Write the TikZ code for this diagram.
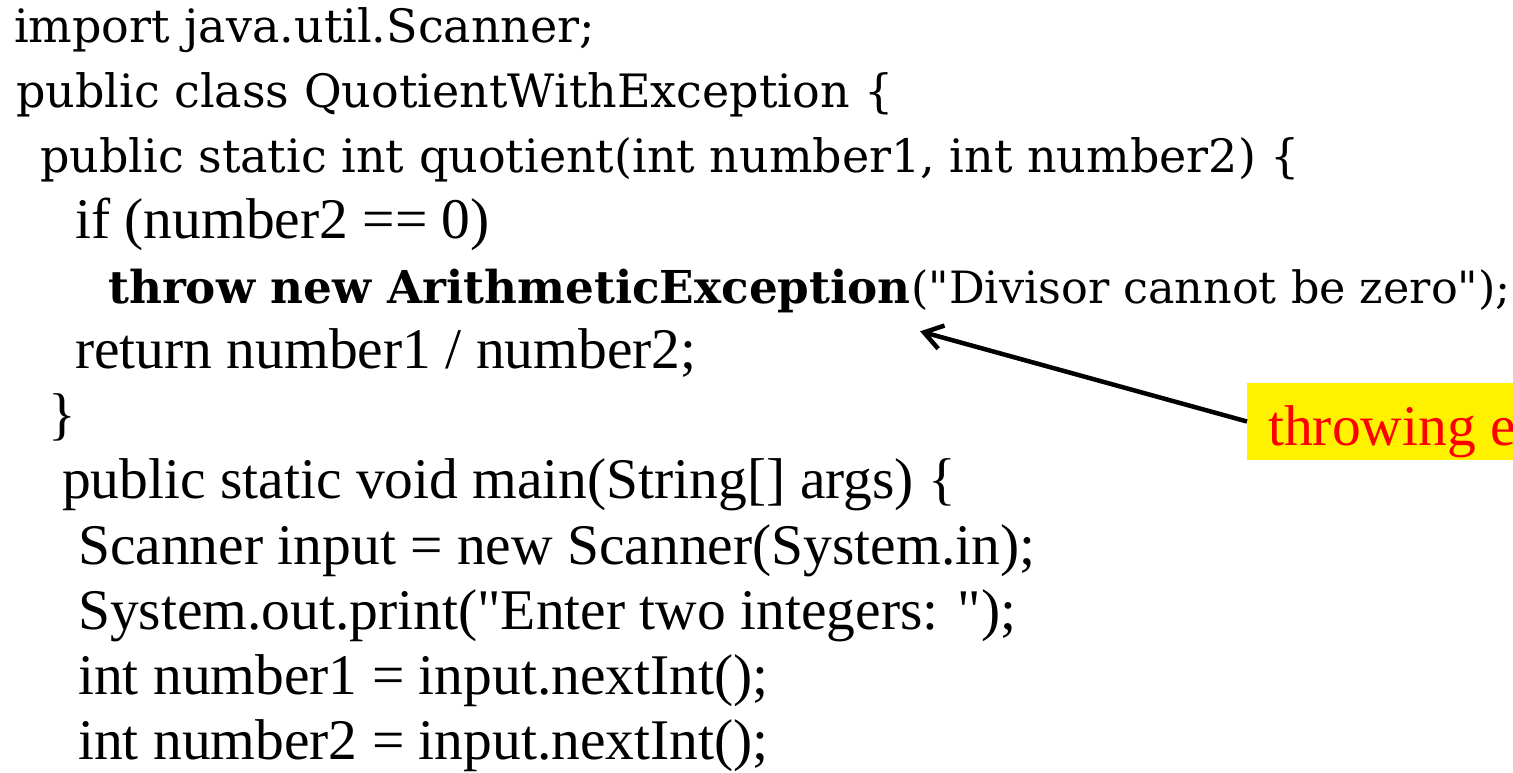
\documentclass[tikz,border=0pt]{standalone}
\usepackage{fontspec}
\newfontfamily\codefont{Liberation Serif}
\newfontfamily\slabfont{DejaVu Serif}
\usetikzlibrary{arrows.meta,calc}

\begin{document}
\begin{tikzpicture}[x=1pt,y=1pt,
  code/.style={anchor=base west, inner sep=0pt, font=\codefont\fontsize{57.5}{66}\selectfont},
  slab/.style={anchor=base west, inner sep=0pt, font=\slabfont\fontsize{46}{66}\selectfont},
  slabbold/.style={anchor=base west, inner sep=0pt, font=\slabfont\bfseries\fontsize{45.3}{66}\selectfont},
  slabreg/.style={anchor=base west, inner sep=0pt, font=\slabfont\fontsize{44.5}{66}\selectfont},
  callout/.style={anchor=base west, fill=yellow, text=red, inner xsep=21pt, inner ysep=0pt,
    text height=62pt, text depth=15pt, font=\codefont\fontsize{57.5}{66}\selectfont},
  pointer/.style={draw=black, line width=4.5pt, -{Straight Barb[length=18pt,width=24pt,line width=4.5pt]}}]
\useasboundingbox (0,0) rectangle (1513,-773);
\clip (0,0) rectangle (1513,-773);
\fill[white] (0,0) rectangle (1513,-773);

% source listing, one node per line
\node[slab] (l1)  at (14,-42.5)  {import java.util.Scanner;};
\node[slab] (l2)  at (16,-107.7) {public class QuotientWithException \{};
\node[slab] (l3)  at (40,-172.9) {public static int quotient(int number1, int number2) \{};
\node[code] (l4)  at (75,-238.1) {if (number2 == 0)};
\node[slabbold] (l5a) at (108,-303.3) {throw new ArithmeticException};
\node[slabreg]  (l5b) at (l5a.base east) {("Divisor cannot be zero");};
\node[code] (l6)  at (75,-368.5) {return number1 / number2;};
\node[code] (l7)  at (48,-433.7) {\}};
\node[code] (l8)  at (62,-498.9) {public static void main(String[] args) \{};
\node[code] (l9)  at (78,-564.1) {Scanner input = new Scanner(System.in);};
\node[code] (l10) at (78,-629.3) {System.out.print("Enter two integers: ");};
\node[code] (l11) at (78,-694.5) {int number1 = input.nextInt();};
\node[code] (l12) at (78,-759.7) {int number2 = input.nextInt();};

% annotation
\node[callout] (note) at (1247,-445) {throwing e};
\coordinate (tip) at ($(l5b.base west)+(9,-28)$);
\draw[pointer] (note.west) -- (tip);
\end{tikzpicture}
\end{document}
